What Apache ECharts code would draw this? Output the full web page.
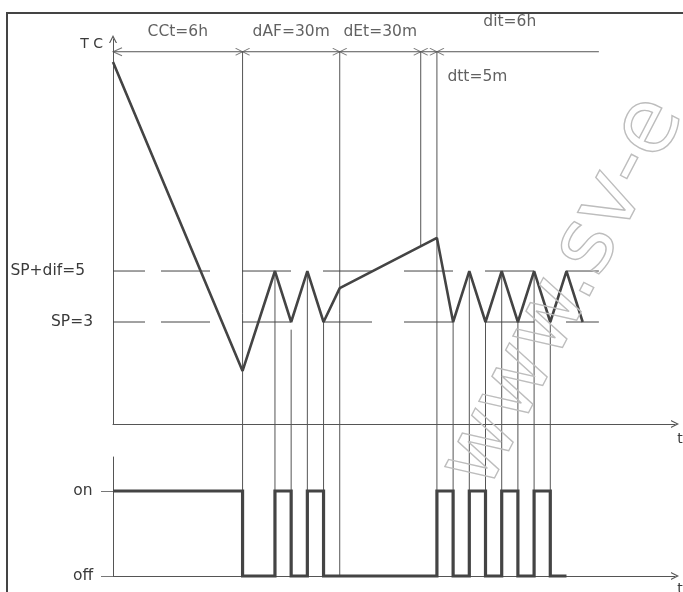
<!DOCTYPE html>
<html><head><meta charset="utf-8">
<script src="https://cdn.jsdelivr.net/npm/echarts@6/dist/echarts.min.js"></script>
<style>html,body{margin:0;padding:0;background:#fff}#c{width:683px;height:592px}</style>
</head><body><div id="c"></div>
<script>
// ---- data ----
const tempX = [0, 8, 10, 11, 12, 13, 14, 20, 21, 22, 23, 24, 25, 26, 27, 28, 29];
const tempY = [13.2, 1.08, 5, 3, 5, 3, 4.33, 6.3, 3, 5, 3, 5, 3, 5, 3, 5, 3];
const stateX = [0, 8, 10, 11, 12, 13, 20, 21, 22, 23, 24, 25, 26, 27, 28];
const stateY = [1, 0, 1, 0, 1, 0, 1, 0, 1, 0, 1, 0, 1, 0, 0];
const SP = 3, SPdif = 5;
const lineEndX = 30;
const dimY = 13.6;
const dimMarksX = [8, 14, 19, 20];
const guideX   = [8, 10, 11, 12, 13, 14, 19, 20, 21, 22, 23, 24, 25, 26, 27];
const guideTop = [13.6, 5, 2.7, 5, 3, 13.6, 13.6, 13.6, 3, 5, 3, 5, 3, 5, 3];
const guideEndState = [0, 1, 1, 1, 1, 0, null, 1, 1, 1, 1, 1, 1, 1, 1];
const guideEndTemp  = [null, null, null, null, null, null, 5.97, null, null, null, null, null, null, null, null];
const dimLabels = ['CCt=6h', 'dAF=30m', 'dEt=30m', 'dit=6h', 'dtt=5m'];
const dimLabelX = [4, 11, 16.5, 24.5, 22.5];
const dimLabelY = [14.38, 14.38, 14.38, 14.76, 12.6];
const tempTickVals = [3, 5];
const tempTickLabels = ['SP=3', 'SP+dif=5'];
const stateTickVals = [0, 1];
const stateTickLabels = ['off', 'on'];

// ---- styles ----
const DARK = '#444', AX = '#555', FONT = 'DejaVu Sans';
const chevron = 'path://M0,10L5,0L10,10L8.5,10L5,3L1.5,10Z';
const leftArrow = 'path://M10,0L0,5L10,10';
const cross = 'path://M0,0L10,10M10,0L0,10';

const chart = echarts.init(document.getElementById('c'));
const txt = {color: '#3a3a3a', fontFamily: FONT, fontSize: 15.5};

const option = {
  animation: false,
  grid: [
    {left: 113, top: 39, width: 562, height: 385, outerBoundsMode: 'none', containLabel: false},
    {left: 113, top: 457, width: 562, height: 119, outerBoundsMode: 'none', containLabel: false}
  ],
  xAxis: [0, 1].map(i => ({
    type: 'value', gridIndex: i, min: 0, max: 34.7,
    axisLine: {onZero: false, symbol: ['none', chevron], symbolSize: [8, 8], lineStyle: {color: AX, width: 1}},
    axisTick: {show: false}, axisLabel: {show: false}, splitLine: {show: false},
    name: 't', nameLocation: 'end', nameGap: 5,
    nameTextStyle: Object.assign({}, txt, {fontSize: 14, align: 'center', verticalAlign: 'top', padding: [i ? 6 : 8, 0, 0, 0]})
  })),
  yAxis: [
    {
      type: 'value', gridIndex: 0, min: -1, max: 14.1,
      axisLine: {onZero: false, symbol: ['none', chevron], symbolSize: [8, 8], lineStyle: {color: AX, width: 1}},
      axisTick: {show: false}, splitLine: {show: false},
      axisLabel: {
        customValues: tempTickVals, margin: 20,
        formatter: v => v === SPdif ? '{b|' + tempTickLabels[1] + '}' : '{a|' + tempTickLabels[0] + '}',
        rich: {a: Object.assign({}, txt), b: Object.assign({}, txt, {padding: [0, 8, 0, 0]})}
      },
      name: 'T C', nameLocation: 'end', nameGap: -5,
      nameTextStyle: Object.assign({}, txt, {fontSize: 14, align: 'right', verticalAlign: 'middle', padding: [0, 10, 0, 0]})
    },
    {
      type: 'value', gridIndex: 1, min: 0, max: 1.4,
      axisLine: {onZero: false, lineStyle: {color: AX, width: 1}},
      axisTick: {show: true, customValues: stateTickVals, length: 12, lineStyle: {color: '#777'}},
      splitLine: {show: false},
      axisLabel: Object.assign({}, txt, {
        customValues: stateTickVals, margin: 30, align: 'center',
        formatter: v => stateTickLabels[stateTickVals.indexOf(v)]
      })
    }
  ],
  graphic: [
    {type: 'polyline', shape: {points: [[7, 592], [7, 13], [683, 13]]}, style: {stroke: '#444', lineWidth: 2, fill: 'none'}, z: 100},
    {type: 'text', x: 466, y: 482, rotation: 1.09, z: 100,
     style: {text: 'www.sv-e', fontSize: 90, fontFamily: FONT, fill: 'rgba(0,0,0,0)', stroke: '#bdbdbd', lineWidth: 1.4, verticalAlign: 'middle'}}
  ],
  series: []
};

// threshold dashed lines
[SPdif, SP].forEach(v => option.series.push({
  type: 'line', xAxisIndex: 0, yAxisIndex: 0, symbol: 'none', z: 2,
  data: [[0, v], [lineEndX, v]],
  lineStyle: {color: DARK, width: 1, type: [32, 16, 49, 32, 49, 32, 49, 32, 49, 32, 49, 32, 49, 32, 49, 32]}
}));
// dimension line
option.series.push({
  type: 'line', xAxisIndex: 0, yAxisIndex: 0, symbol: 'none', z: 2,
  data: [[0, dimY], [lineEndX, dimY]], lineStyle: {color: AX, width: 1}
});
// dimension marks
option.series.push({
  type: 'scatter', xAxisIndex: 0, yAxisIndex: 0, z: 3, clip: false,
  itemStyle: {color: 'none', borderColor: AX, borderWidth: 1},
  data: [{value: [0, dimY], symbol: leftArrow, symbolSize: [9, 8], symbolOffset: [4.5, 0]}]
    .concat(dimMarksX.map(x => ({value: [x, dimY], symbol: cross, symbolSize: [14, 7]})))
});
// labels
option.series.push({
  type: 'scatter', xAxisIndex: 0, yAxisIndex: 0, clip: false, symbolSize: 0, z: 4,
  data: dimLabels.map((n, i) => ({value: [dimLabelX[i], dimLabelY[i]], name: n})),
  label: Object.assign({show: true, position: 'inside', formatter: p => p.name}, txt)
});
// temperature trace
option.series.push({
  type: 'line', xAxisIndex: 0, yAxisIndex: 0, symbol: 'none', z: 5,
  data: tempX.map((x, i) => [x, tempY[i]]),
  lineStyle: {color: DARK, width: 2.6}
});
// compressor state
option.series.push({
  type: 'line', xAxisIndex: 1, yAxisIndex: 1, symbol: 'none', step: 'end', z: 5, clip: false,
  data: stateX.map((x, i) => [x, stateY[i]]),
  lineStyle: {color: DARK, width: 3.2, join: 'miter'}
});

chart.setOption(option);

// guide lines: top end in temperature grid, bottom end at the state level of the lower grid
const guides = guideX.map((x, i) => {
  let bottom;
  if (guideEndState[i] !== null) {
    const px = chart.convertToPixel({gridIndex: 1}, [x, guideEndState[i]]);
    bottom = chart.convertFromPixel({gridIndex: 0}, px)[1];
  } else {
    bottom = guideEndTemp[i];
  }
  return {
    type: 'line', xAxisIndex: 0, yAxisIndex: 0, symbol: 'none', z: 1, clip: false,
    data: [[x, guideTop[i]], [x, bottom]],
    lineStyle: {color: '#555', width: 1}
  };
});
chart.setOption({series: option.series.concat(guides)});
</script></body></html>
